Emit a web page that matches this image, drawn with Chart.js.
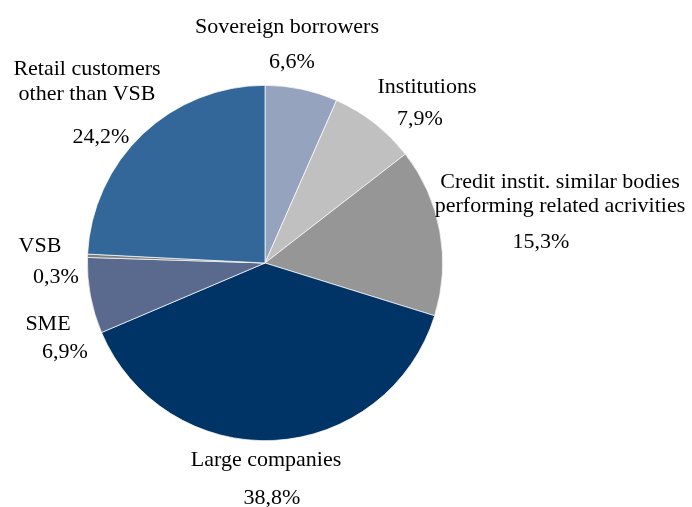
<!DOCTYPE html>
<html>
<head>
<meta charset="utf-8">
<script src="https://cdn.jsdelivr.net/npm/chart.js@4"></script>
<style>
  html, body { margin: 0; padding: 0; background: #fff; }
  #wrap { width: 692px; height: 507px; }
</style>
</head>
<body>
<div id="wrap"><canvas id="pieCanvas" width="692" height="507"></canvas></div>
<script>
///// données
let categories = [
    ["Sovereign borrowers"],
    ["Institutions"],
    ["Credit instit. similar bodies", "performing related acrivities"],
    ["Large companies"],
    ["SME"],
    ["VSB"],
    ["Retail customers", "other than VSB"]
];
let valeurs = [6.6, 7.9, 15.3, 38.8, 6.9, 0.3, 24.2];
let couleurs = ["#95a3bf", "#c0c0c0", "#969696", "#003366", "#5a6a8f", "#7f7f7f", "#336699"];

///// position des étiquettes (décalage par rapport au centre du camembert)
let placeEtiquettes = [
    {x: 22, lignes: [-230], vx: 27, vy: -195},
    {x: 162, lignes: [-170], vx: 155, vy: -138},
    {x: 295, lignes: [-75, -51], vx: 276, vy: -15},
    {x: 1, lignes: [203], vx: 7, vy: 241},
    {x: -217, lignes: [67], vx: -200, vy: 95},
    {x: -225, lignes: [-11], vx: -209, vy: 20},
    {x: -178, lignes: [-188, -163], vx: -164, vy: -120}
];

let etiquettes = {
    id: "etiquettes",
    afterDraw(chart) {
        let ctx = chart.ctx;
        let arc = chart.getDatasetMeta(0).data[0];
        let cx = arc.x, cy = arc.y;
        ctx.save();
        ctx.fillStyle = "#000";
        ctx.font = "22px 'Liberation Serif', 'Times New Roman', serif";
        ctx.textAlign = "center";
        ctx.textBaseline = "alphabetic";
        for (let i = 0; i < categories.length; i++) {
            let p = placeEtiquettes[i];
            categories[i].forEach((ligne, k) => {
                ctx.fillText(ligne, cx + p.x, cy + p.lignes[k]);
            });
            let txt = valeurs[i].toFixed(1).replace(".", ",") + "%";
            ctx.fillText(txt, cx + p.vx, cy + p.vy);
        }
        ctx.restore();
    }
};

///// création du graphique
let graph = document.getElementById("pieCanvas");
let pieChart = new Chart(graph, {
    type: "pie",
    data: {
        labels: categories.map(c => c.join(" ")),
        datasets: [{
            data: valeurs,
            backgroundColor: couleurs,
            borderColor: "#ffffff",
            borderWidth: 0.7
        }]
    },
    options: {
        responsive: false,
        animation: false,
        layout: {
            padding: {left: 87, right: 249, top: 85, bottom: 66}
        },
        plugins: {
            legend: {display: false},
            tooltip: {enabled: false}
        }
    },
    plugins: [etiquettes]
});
</script>
</body>
</html>
